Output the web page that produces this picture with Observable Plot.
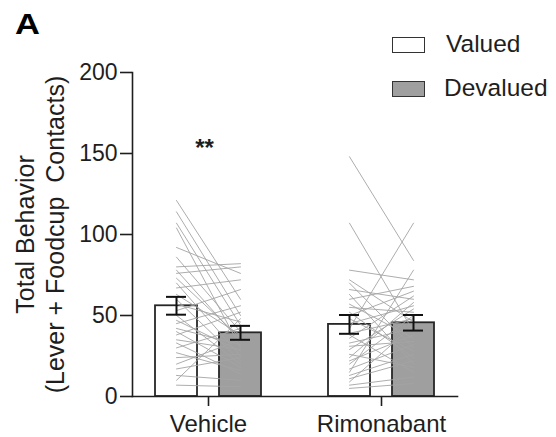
<!DOCTYPE html>
<html>
<head>
<meta charset="utf-8">
<script src="https://cdn.jsdelivr.net/npm/d3@7"></script>
<script src="https://cdn.jsdelivr.net/npm/@observablehq/plot@0.6"></script>
<style>
  html, body { margin: 0; padding: 0; background: #fff; }
  #wrap { position: relative; width: 556px; height: 437px; font-family: "Liberation Sans", Arial, sans-serif; color: #1e1e1e; }
  #wrap svg { position: absolute; left: 0; top: 0; }
  .ov { position: absolute; white-space: pre; line-height: 1; }
  .panel { left: 15px; top: 9px; font-size: 30px; font-weight: bold; color: #000; transform: scaleX(1.15); transform-origin: left top; }
  .lg-box { position: absolute; width: 31px; height: 14px; border: 1.5px solid #333; }
  .lg-txt { font-size: 24.5px; left: 446px; }
  .ytitle { font-size: 25px; width: 400px; text-align: center; transform: rotate(-90deg); }
</style>
</head>
<body>
<div id="wrap">
  <div class="ov panel">A</div>
  <div class="lg-box" style="left:392px; top:37px; background:#ffffff;"></div>
  <div class="ov lg-txt" style="top:32.3px;">Valued</div>
  <div class="lg-box" style="left:392px; top:81px; background:#9f9f9f;"></div>
  <div class="ov lg-txt" style="top:76.3px; left:444px;">Devalued</div>
  <div class="ov ytitle" style="left:-175px; top:221.5px;">Total Behavior</div>
  <div class="ov ytitle" style="left:-145px; top:221.5px;">(Lever + Foodcup  Contacts)</div>
</div>
<script>
// ---- data ----
const groups = ["Vehicle", "Rimonabant"];
const conditions = ["Valued", "Devalued"];
const meanValued = [56, 44.5];
const semValued = [5.5, 5.8];
const meanDevalued = [39.3, 45.5];
const semDevalued = [4.3, 4.8];
const yTicks = [0, 50, 100, 150, 200];

// individual subjects (paired: valued[i] -> devalued[i])
const vehicleValued = [121, 114, 107, 104, 92, 86, 80, 78, 76, 73, 70, 67, 63, 60, 57, 53, 50, 47, 45, 42, 40, 38, 35, 33, 30, 27, 24, 20, 17, 13, 10, 7];
const vehicleDevalued = [60, 50, 44, 30, 76, 40, 82, 34, 80, 36, 25, 72, 38, 22, 46, 66, 20, 28, 56, 32, 18, 52, 29, 14, 42, 16, 26, 35, 24, 10, 48, 6];
const rimonabantValued = [148, 107, 78, 72, 70, 66, 63, 60, 57, 55, 52, 50, 48, 45, 42, 39, 38, 36, 33, 31, 29, 26, 24, 22, 20, 17, 15, 13, 11, 9, 7, 5];
const rimonabantDevalued = [84, 40, 72, 46, 30, 60, 20, 68, 36, 52, 24, 65, 28, 56, 107, 48, 15, 62, 42, 34, 54, 18, 58, 38, 50, 32, 78, 26, 22, 44, 12, 8];

const significance = [{group: "Vehicle", y: 153, label: "**"}];

// ---- tables built from the arrays ----
const bars = [];
groups.forEach((g, i) => {
  bars.push({group: g, condition: "Valued", mean: meanValued[i], sem: semValued[i]});
  bars.push({group: g, condition: "Devalued", mean: meanDevalued[i], sem: semDevalued[i]});
});
const subjects = [];
[[groups[0], vehicleValued, vehicleDevalued], [groups[1], rimonabantValued, rimonabantDevalued]].forEach(([g, v, d]) => {
  v.forEach((val, i) => {
    subjects.push({id: g + i, group: g, condition: "Valued", value: val});
    subjects.push({id: g + i, group: g, condition: "Devalued", value: d[i]});
  });
});

const ink = "#1e1e1e";
const chart = Plot.plot({
  width: 556,
  height: 437,
  marginLeft: 131,
  marginRight: 99,
  marginTop: 72,
  marginBottom: 41,
  style: {fontFamily: "'Liberation Sans', Arial, sans-serif", color: ink, background: "transparent"},
  fx: {domain: groups, paddingInner: 0.1214, paddingOuter: 0, axis: null, label: null},
  x: {domain: conditions, padding: 0.3385, axis: null, label: null},
  y: {domain: [0, 200], axis: null, label: null},
  color: {domain: conditions, range: ["#ffffff", "#9f9f9f"]},
  marks: [
    Plot.barY(bars, {fx: "group", x: "condition", y: "mean", fill: "condition", stroke: "#262626", strokeWidth: 1.8}),
    Plot.line(subjects, {fx: "group", x: "condition", y: "value", z: "id", stroke: "#a4a4a4", strokeWidth: 0.9}),
    Plot.ruleX(bars, {fx: "group", x: "condition", y1: d => d.mean - d.sem, y2: d => d.mean + d.sem, stroke: "#111", strokeWidth: 2}),
    Plot.tickY(bars, {fx: "group", x: "condition", y: d => d.mean - d.sem, insetLeft: 11, insetRight: 11, stroke: "#111", strokeWidth: 2}),
    Plot.tickY(bars, {fx: "group", x: "condition", y: d => d.mean + d.sem, insetLeft: 11, insetRight: 11, stroke: "#111", strokeWidth: 2}),
    Plot.text(significance, {fx: "group", y: "y", text: "label", fontSize: 24, fontWeight: "bold", fill: ink, dx: -4}),
    Plot.axisY({ticks: yTicks, tickSize: 12, tickPadding: 3, fontSize: 23, label: null, stroke: ink, strokeWidth: 1.6, color: ink}),
    Plot.frame({anchor: "left", facet: "super", stroke: ink, strokeWidth: 1.6}),
    Plot.frame({anchor: "bottom", facet: "super", stroke: ink, strokeWidth: 1.6}),
    Plot.axisFx({anchor: "bottom", tickSize: 10, tickPadding: 8, fontSize: 24, label: null, stroke: ink, strokeWidth: 1.6, color: ink})
  ]
});
document.getElementById("wrap").appendChild(chart);
</script>
</body>
</html>
